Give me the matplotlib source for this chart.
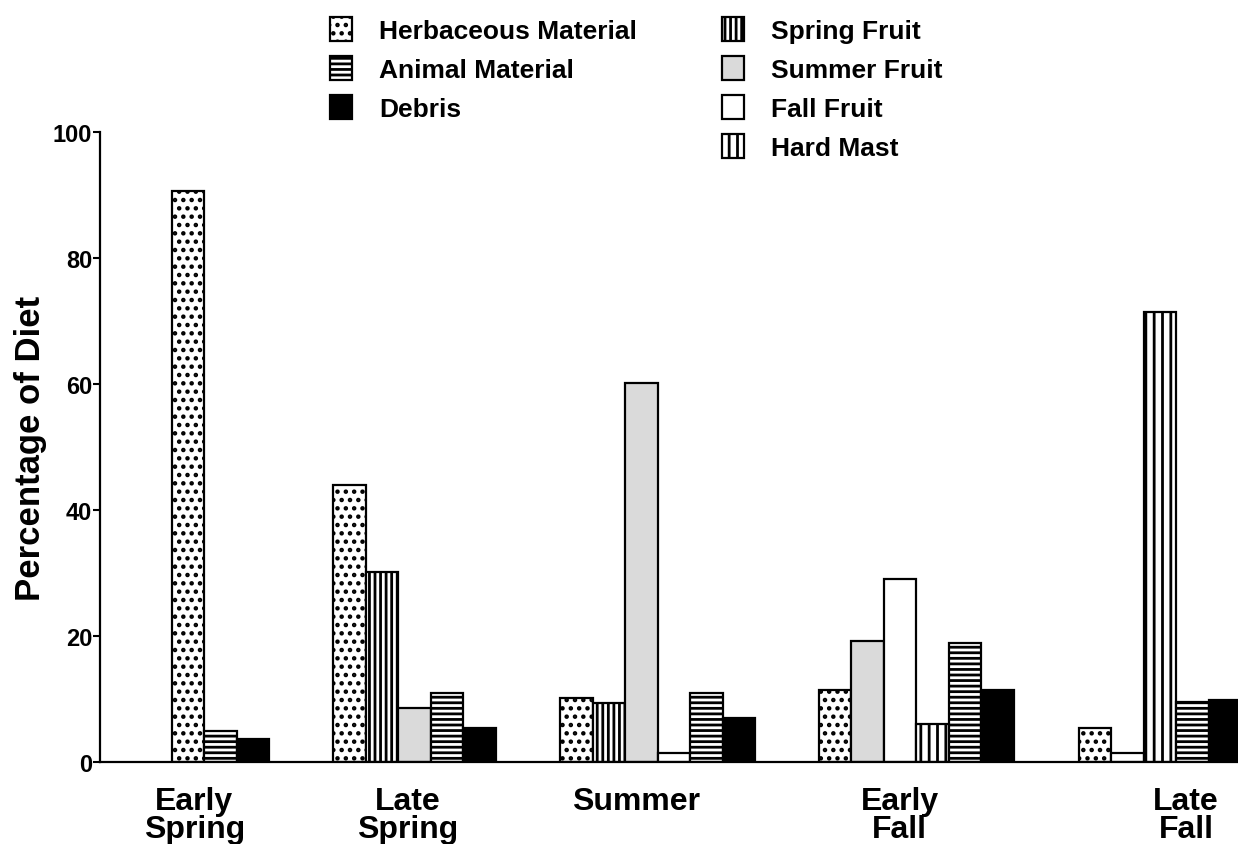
import matplotlib
matplotlib.use("Agg")
import matplotlib.pyplot as plt
from matplotlib.patches import Patch

# seasons along the x axis
seasons = ["Early\nSpring", "Late\nSpring", "Summer", "Early\nFall", "Late\nFall"]

# percentage of diet per food item, one value per season (0 = not eaten)
herbaceous = [90.6, 44.0, 10.1, 11.4, 5.4]
spring_fruit = [0, 30.2, 9.4, 0, 0]
summer_fruit = [0, 8.6, 60.2, 19.2, 0]
fall_fruit = [0, 0, 1.5, 29.1, 1.5]
hard_mast = [0, 0, 0, 6.1, 71.4]
animal = [5.0, 10.9, 11.0, 18.9, 9.6]
debris = [3.6, 5.4, 7.0, 11.5, 9.9]

y_ticks = [0, 20, 40, 60, 80, 100]

# order of bars inside one season group
ITEMS = [
    ("Herbaceous Material", herbaceous),
    ("Spring Fruit", spring_fruit),
    ("Summer Fruit", summer_fruit),
    ("Fall Fruit", fall_fruit),
    ("Hard Mast", hard_mast),
    ("Animal Material", animal),
    ("Debris", debris),
]

STYLES = {
    "Herbaceous Material": dict(facecolor="white", hatch=".."),
    "Spring Fruit": dict(facecolor="white", hatch="|||"),
    "Summer Fruit": dict(facecolor="#dadada", hatch=None),
    "Fall Fruit": dict(facecolor="white", hatch=None),
    "Hard Mast": dict(facecolor="white", hatch="||"),
    "Animal Material": dict(facecolor="white", hatch="---"),
    "Debris": dict(facecolor="black", hatch=None),
}

LEFT_LEGEND = ["Herbaceous Material", "Animal Material", "Debris"]
RIGHT_LEGEND = ["Spring Fruit", "Summer Fruit", "Fall Fruit", "Hard Mast"]

# layout, in bar widths
GROUP_START = [2.2, 7.17, 14.15, 22.1, 30.1]
LABEL_POS = [2.9, 9.45, 16.5, 24.6, 33.4]

plt.rcParams["font.family"] = ["Liberation Sans", "DejaVu Sans"]
plt.rcParams["font.weight"] = "bold"
plt.rcParams["hatch.linewidth"] = 2.0
plt.rcParams["hatch.color"] = "black"

W, H = 1238, 845
fig = plt.figure(figsize=(W / 100, H / 100), dpi=100)
ax = fig.add_axes([100 / W, 82 / H, 1138 / W, 630 / H])

for s, start in enumerate(GROUP_START):
    k = 0
    for name, values in ITEMS:
        if values[s] <= 0:
            continue
        ax.bar(start + k, values[s], width=1.0, align="edge",
               edgecolor="black", linewidth=1.6, **STYLES[name])
        k += 1

ax.set_xlim(0, 35.0)
ax.set_ylim(0, 100)
ax.set_yticks(y_ticks)
ax.set_xticks(LABEL_POS)
ax.set_xticklabels(seasons, fontsize=23, fontweight="bold", linespacing=0.95)
ax.tick_params(axis="x", length=0, pad=17)
ax.tick_params(axis="y", direction="out", length=5, width=1.5,
               labelsize=17, pad=0.5)

for side in ("top", "right"):
    ax.spines[side].set_visible(False)
for side in ("left", "bottom"):
    ax.spines[side].set_linewidth(1.6)

ax.set_ylabel("Percentage of Diet", fontsize=25, fontweight="bold")
ax.yaxis.label.set_verticalalignment("center")
ax.yaxis.set_label_coords(-0.0615, 0.5)


def make_handles(names):
    return [Patch(edgecolor="black", linewidth=1.6, label=n, **STYLES[n])
            for n in names]


legend_kw = dict(loc="upper left", frameon=False, fontsize=19,
                 handlelength=0.85, handleheight=1.0, handletextpad=1.0,
                 labelspacing=0.5, borderpad=0, borderaxespad=0)
fig.legend(handles=make_handles(LEFT_LEGEND),
           bbox_to_anchor=(330 / W, 1 - 18 / H), **legend_kw)
fig.legend(handles=make_handles(RIGHT_LEGEND),
           bbox_to_anchor=(722 / W, 1 - 18 / H), **legend_kw)

fig.savefig("out.png", dpi=100)
